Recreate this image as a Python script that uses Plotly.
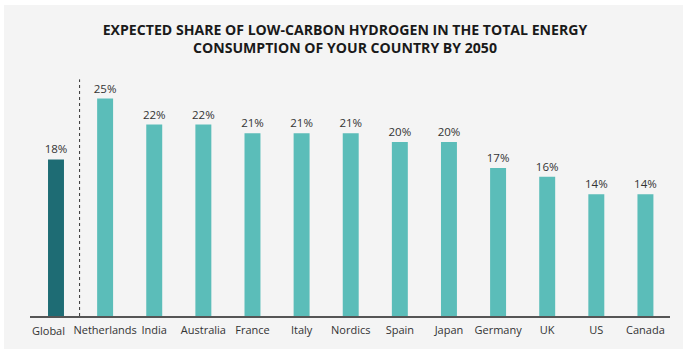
import plotly.graph_objects as go

categories = ["Global", "Netherlands", "India", "Australia", "France", "Italy",
              "Nordics", "Spain", "Japan", "Germany", "UK", "US", "Canada"]
values = [18, 25, 22, 22, 21, 21, 21, 20, 20, 17, 16, 14, 14]
tick_labels = list(categories)
bar_colors = ["#1e6c74"] + ["#5bbdb9"] * 12

W, H = 690, 359
ml, mr, mt, mb = 30, 20, 70, 43
pw, ph = W - ml - mr, H - mt - mb

# the first label sits a little to the left of its bar in the original:
# draw it as an annotation, the rest as normal tick labels
shown_ticks = [""] + tick_labels[1:]

fig = go.Figure(go.Bar(
    x=categories, y=values,
    marker=dict(color=bar_colors, line=dict(width=0)),
    text=[f"{v}%" for v in values],
    textposition="outside",
    constraintext="none",
    textfont=dict(size=11.5, color="#333333"),
    cliponaxis=False,
))

fig.add_annotation(x=categories[0], xref="x", y=0, yref="paper",
                   text=tick_labels[0], showarrow=False,
                   xanchor="center", yanchor="middle", xshift=-7.5, yshift=-14,
                   font=dict(size=11, color="#333333"))

# gray panel background
px0, px1, py0, py1 = 4, 683, 5, 349
fig.add_shape(type="rect", xref="paper", yref="paper",
              x0=(px0 - ml) / pw, x1=(px1 - ml) / pw,
              y0=(H - mb - py1) / ph, y1=(H - mb - py0) / ph,
              fillcolor="#f4f4f4", line=dict(width=0), layer="below")

# dashed separator between Global and countries
fig.add_shape(type="line", xref="x", yref="y", x0=0.48, x1=0.48, y0=0, y1=27.2,
              line=dict(color="#333333", width=1, dash="dot"))

fig.update_layout(
    width=W, height=H,
    margin=dict(l=ml, r=mr, t=mt, b=mb),
    paper_bgcolor="white",
    plot_bgcolor="rgba(0,0,0,0)",
    font=dict(family="Open Sans, DejaVu Sans, sans-serif", color="#333333"),
    title=dict(text="<b>EXPECTED SHARE OF LOW-CARBON HYDROGEN IN THE TOTAL ENERGY<br>CONSUMPTION OF YOUR COUNTRY BY 2050</b>",
               x=0.5, xanchor="center", y=1 - 35 / H, yanchor="top",
               font=dict(size=14.1, color="#1a1a1a")),
    bargap=0.675,
    showlegend=False,
    xaxis=dict(showline=True, linecolor="#555555", linewidth=1.5, showgrid=False,
               ticks="", tickangle=0, ticklabelstandoff=3,
               tickmode="array", tickvals=categories, ticktext=shown_ticks,
               tickfont=dict(size=11, color="#333333"), fixedrange=True),
    yaxis=dict(range=[0, ph / 8.7], visible=False, showgrid=False, zeroline=False),
)

fig.write_html("out.html", config={"displayModeBar": False},
               post_script="document.body.style.margin='0';")
